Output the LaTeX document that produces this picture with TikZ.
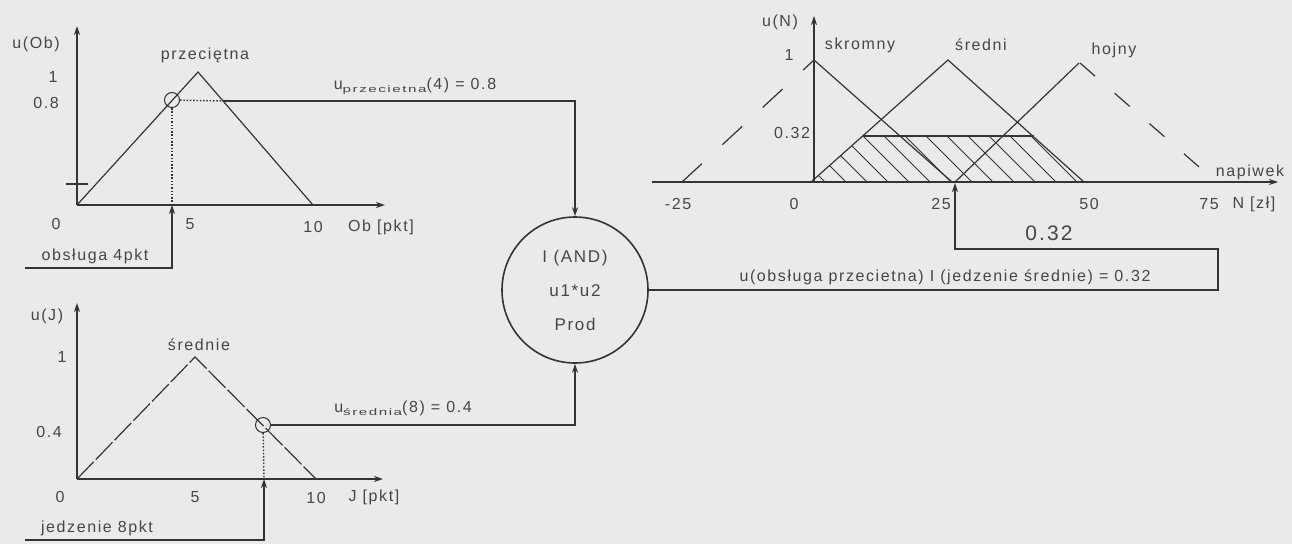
\documentclass[tikz,border=0pt]{standalone}
\usepackage{fontspec}
\setmainfont{Liberation Sans}[LetterSpace=10]
\usepackage{graphicx}
\usepackage{tikz}
\usetikzlibrary{arrows.meta, positioning, calc}
\definecolor{ink}{RGB}{52,52,52}
\definecolor{txt}{RGB}{70,70,70}
\definecolor{paper}{RGB}{234,234,234}

\newcommand{\sub}[1]{\raisebox{-3pt}{\scalebox{1.6}[1]{\fontsize{9.5}{9.5}\selectfont #1}}}

\begin{document}
\begin{tikzpicture}[
        x=1pt, y=-1pt,
        >={Stealth[length=9pt,width=6pt]},
        lbl/.style={text=txt, font=\fontsize{16}{18}\selectfont, inner sep=0pt},
        big/.style={text=txt, font=\fontsize{21}{23}\selectfont, inner sep=0pt},
        pt/.style={circle, draw=ink, line width=1pt, minimum size=15pt, inner sep=0pt},
        oper/.style={circle, draw=ink, line width=1.6pt, minimum size=146pt, inner sep=0pt, align=center, text=txt, font=\fontsize{17}{34}\selectfont},
        axline/.style={->, draw=ink, line width=1.3pt},
        mf/.style={draw=ink, line width=1.2pt},
        dotline/.style={draw=ink, line width=1.4pt, dash pattern=on 1.5pt off 1.8pt},
        line/.style={->, draw=ink, line width=1.2pt}
    ]

        \useasboundingbox (0,0) rectangle (1292,544);
        \fill[paper] (0,0) rectangle (1292,544);

        % ================= OPERATOR =================
        \node[oper] (oper) at (575,290) {I (AND)\\u1*u2\\Prod};

        % ================= OBSLUGA =================
        \draw[axline] (77,205) -- (385,205);
        \draw[axline] (77,205) -- (77,26);
        \draw[mf] (66,184) -- (88,184);
        \draw[mf] (77,205) -- (198,72) -- (313,205);

        \node[pt] (c1) at (172,100) {};
        \coordinate (k1) at (223,101);
        \coordinate (in1) at (172,205);
        \coordinate (s1) at (25,268);
        \draw[dotline] (c1) -- (k1);
        \draw[dotline] (c1) -- (in1);
        \draw[line] (s1) -| (in1);
        \draw[line] (k1) -| (oper);

        \node[lbl] (uob) at (36,44) {u(Ob)};
        \node[lbl] (ob1) at (53,77) {1};
        \node[lbl] (ob08) at (46,103) {0.8};
        \node[lbl] (przec) at (205,55) {przeciętna};
        \node[lbl] (ob0) at (56,224) {0};
        \node[lbl] (ob5) at (190,224) {5};
        \node[lbl] (ob10) at (313,227) {10};
        \node[lbl] (obx) at (381,227) {Ob [pkt]};
        \node[lbl] (obin) at (95,256) {obsługa 4pkt};
        \node[lbl] (uprz) at (415,86) {u\sub{przecietna}(4) = 0.8};

        % ================= JEDZENIE =================
        \draw[axline] (77,479) -- (383,479);
        \draw[axline] (77,479) -- (77,303);
        \draw[mf, dash pattern=on 24pt off 3pt] (77,479) -- (195,357) -- (316,479);

        \node[pt] (c2) at (263,425) {};
        \coordinate (in2) at (264,479);
        \coordinate (s2) at (25,540);
        \draw[dotline] (c2) -- (in2);
        \draw[line] (s2) -| (in2);
        \draw[line] (c2) -| (oper);

        \node[lbl] (uj) at (47,316) {u(J)};
        \node[lbl] (j1) at (62,357) {1};
        \node[lbl] (sred) at (199,345) {średnie};
        \node[lbl] (j04) at (49,432) {0.4};
        \node[lbl] (j0) at (60,497) {0};
        \node[lbl] (j5) at (195,497) {5};
        \node[lbl] (j10) at (316,498) {10};
        \node[lbl] (jx) at (374,497) {J [pkt]};
        \node[lbl] (jin) at (97,528) {jedzenie 8pkt};
        \node[lbl] (usr) at (403,408) {u\sub{średnia}(8) = 0.4};

        % ================= NAPIWEK =================
        \draw[axline] (652,182) -- (1278,182);
        \draw[axline] (814,182) -- (814,16);

        % zbiory
        \draw[mf, dash pattern=on 27pt off 28pt] (682,182) -- (814,60);
        \draw[mf] (814,60) -- (952,182);
        \draw[mf] (811,182) -- (948,60) -- (1084,182);
        \draw[mf] (955,182) -- (1079,63);
        \draw[mf, dash pattern=on 20pt off 26pt] (1080,63) -- (1214,180);

        % wynik (sciete srednie)
        \begin{scope}
            \clip (811,182) -- (863,136) -- (1034,136) -- (1084,182) -- cycle;
            \foreach \k in {-4,...,10}
                \draw[mf, line width=1pt] (863+21*\k-10,126) -- ++(70,70);
        \end{scope}
        \draw[mf] (863,136) -- (1034,136);

        \coordinate (in3) at (955,183);
        \coordinate (brk) at (1218,249);
        \draw[line] (oper) -- (oper -| brk) -- (brk) -| (in3);

        \node[lbl] (un) at (780,22) {u(N)};
        \node[lbl] (n1) at (789,55) {1};
        \node[lbl] (n032) at (792,133) {0.32};
        \node[lbl] (skr) at (860,45) {skromny};
        \node[lbl] (sre) at (981,45) {średni};
        \node[lbl] (hoj) at (1114,50) {hojny};
        \node[lbl] (nap) at (1250,172) {napiwek};
        \node[lbl] (nm25) at (678,204) {-25};
        \node[lbl] (n0) at (794,204) {0};
        \node[lbl] (n25) at (941,204) {25};
        \node[lbl] (n50) at (1089,204) {50};
        \node[lbl] (n75) at (1209,204) {75};
        \node[lbl] (nx) at (1254,204) {N [zł]};
        \node[big] (wyn) at (1049,233) {0.32};
        \node[lbl] (uwyn) at (945,277) {u(obsługa przecietna) I (jedzenie średnie) = 0.32};

    \end{tikzpicture}
\end{document}
